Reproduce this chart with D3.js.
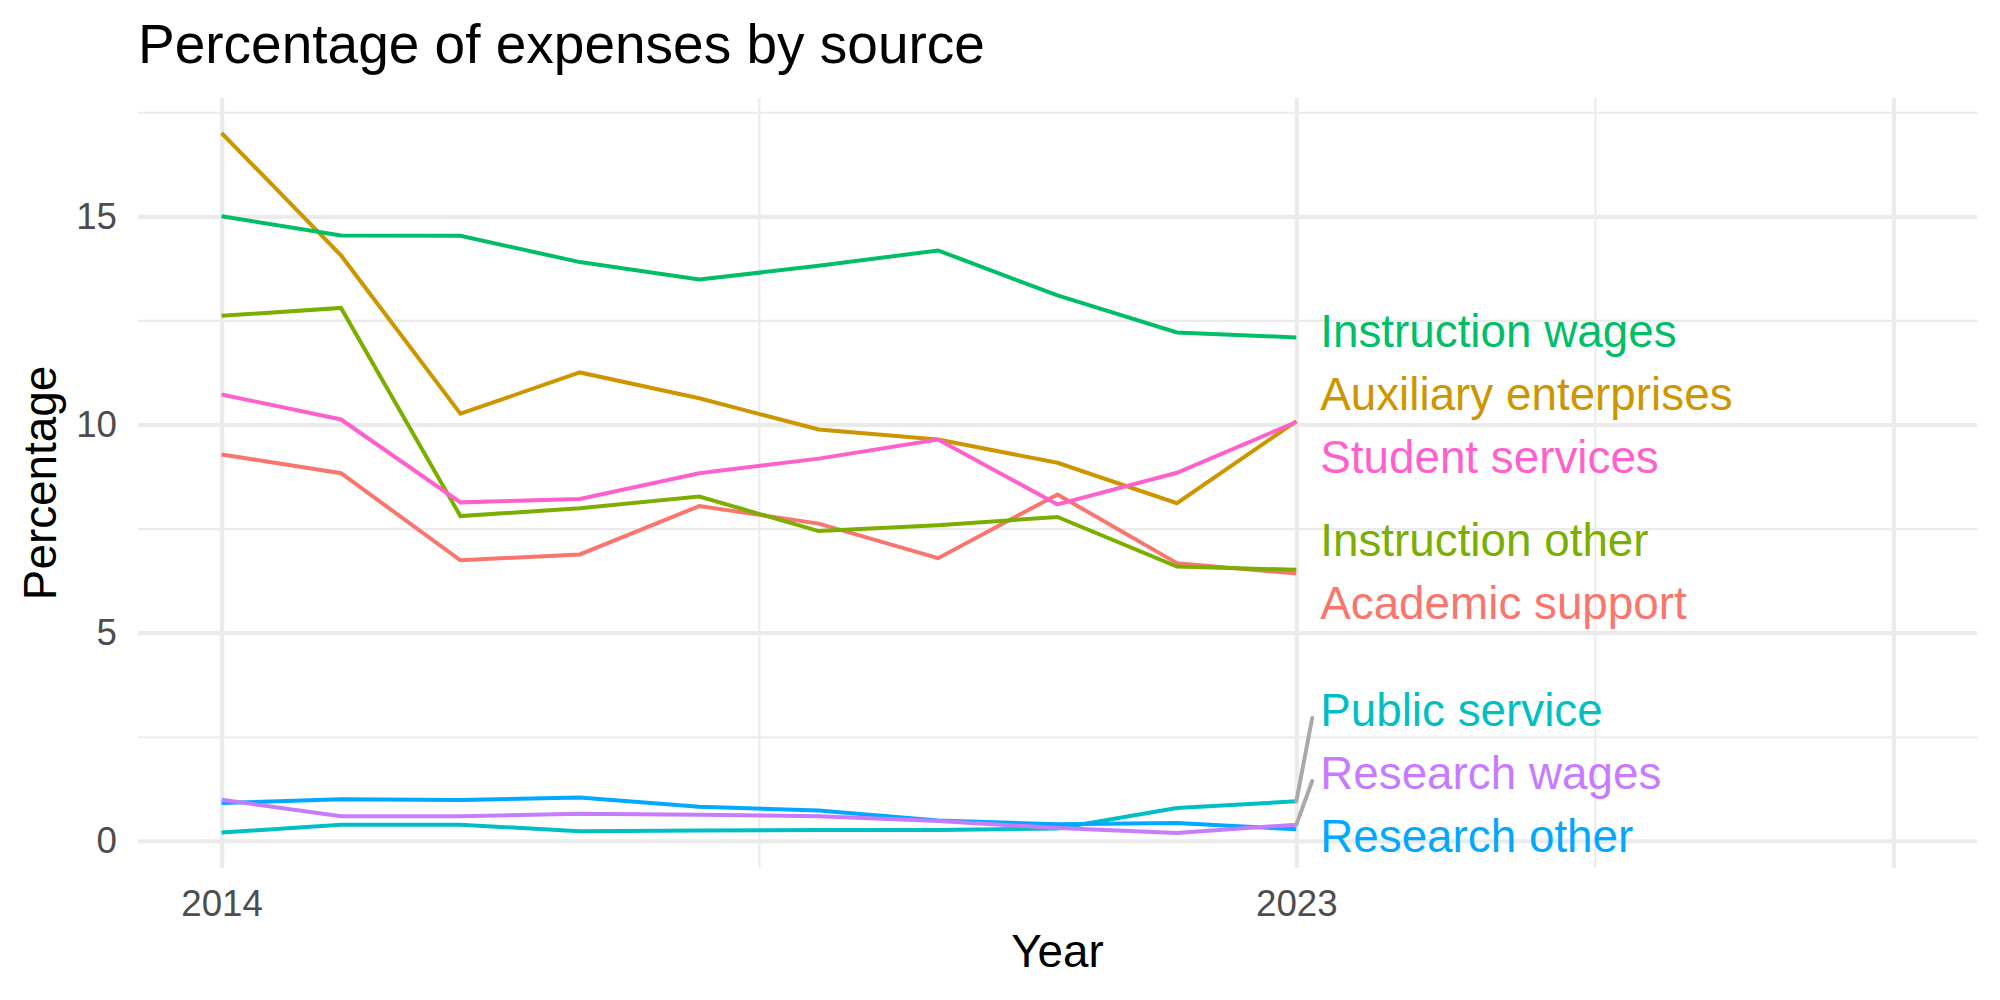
<!DOCTYPE html>
<html>
<head>
<meta charset="utf-8">
<script src="https://cdn.jsdelivr.net/npm/d3@7"></script>
<style>
  body { margin: 0; background: #fff; }
  text { font-family: "Liberation Sans", Arial, sans-serif; }
</style>
</head>
<body>
<div id="chart"></div>
<script>

const years = [2014, 2015, 2016, 2017, 2018, 2019, 2020, 2021, 2022, 2023]

const academicSupport      = [9.28, 8.83, 6.74, 6.88, 8.04, 7.62, 6.79, 8.32, 6.67, 6.42]
const auxiliaryEnterprises = [17.0, 14.06, 10.26, 11.25, 10.63, 9.88, 9.64, 9.08, 8.11, 10.08]
const instructionOther     = [12.61, 12.8, 7.8, 7.99, 8.27, 7.44, 7.58, 7.78, 6.59, 6.51]
const instructionWages     = [15.0, 14.54, 14.53, 13.9, 13.48, 13.81, 14.18, 13.1, 12.21, 12.09]
const publicService        = [0.2, 0.39, 0.39, 0.23, 0.25, 0.26, 0.26, 0.3, 0.79, 0.95]
const researchOther        = [0.91, 1.0, 0.98, 1.04, 0.82, 0.73, 0.49, 0.4, 0.43, 0.28]
const researchWages        = [0.99, 0.59, 0.59, 0.65, 0.63, 0.59, 0.48, 0.31, 0.19, 0.39]
const studentServices      = [10.72, 10.12, 8.13, 8.21, 8.83, 9.18, 9.64, 8.08, 8.84, 10.06]

const sources = ["Academic support", "Auxiliary enterprises", "Instruction other", "Instruction wages",
                 "Public service", "Research other", "Research wages", "Student services"]
const seriesValues = [academicSupport, auxiliaryEnterprises, instructionOther, instructionWages,
                      publicService, researchOther, researchWages, studentServices]

const xLimits = [2014, 2028]
const xBreaks = [2014, 2023, 2028]
const xLabels = ["2014", "2023", ""]
const xMinor = [2018.5, 2025.5]
const yBreaks = [0, 5, 10, 15]
const yMinor = [2.5, 7.5, 12.5, 17.5]

const width = 2000
const height = 1000
const pLeft = 138, pRight = 1977, pTop = 98, pBottom = 868

const series = sources.map((name, i) => ({
    name: name,
    values: years.map((y, j) => ({ year: y, value: seriesValues[i][j] }))
}))

const colors = d3.scaleOrdinal()
    .domain(sources)
    .range(["#F8766D", "#CD9600", "#7CAE00", "#00BE67", "#00BFC4", "#00A9FF", "#C77CFF", "#FF61CC"])

// ggplot style 5% expansion
const xPad = (xLimits[1] - xLimits[0]) * 0.05
const x_scale = d3.scaleLinear()
    .domain([xLimits[0] - xPad, xLimits[1] + xPad])
    .range([pLeft, pRight])

const allValues = seriesValues.flat()
const yExt = d3.extent(allValues)
const yPad = (yExt[1] - yExt[0]) * 0.05
const y_scale = d3.scaleLinear()
    .domain([yExt[0] - yPad, yExt[1] + yPad])
    .range([pBottom, pTop])

const svg = d3.select("#chart")
    .append("svg")
        .attr("width", width)
        .attr("height", height)

// gridlines
function grid(axis, cls, w, tr) {
    const g = svg.append("g").attr("class", cls).attr("transform", tr).call(axis)
    g.select(".domain").remove()
    g.selectAll("line").attr("stroke", "#EBEBEB").attr("stroke-width", w)
    g.selectAll("text").remove()
}
const atBottom = `translate(0, ${pBottom})`
const atLeft = `translate(${pLeft}, 0)`
grid(d3.axisBottom(x_scale).tickValues(xMinor).tickSize(-(pBottom - pTop)).tickFormat(""), "xminor", 2.1, atBottom)
grid(d3.axisLeft(y_scale).tickValues(yMinor).tickSize(-(pRight - pLeft)).tickFormat(""), "yminor", 2.1, atLeft)
grid(d3.axisBottom(x_scale).tickValues(xBreaks).tickSize(-(pBottom - pTop)).tickFormat(""), "xmajor", 4.2, atBottom)
grid(d3.axisLeft(y_scale).tickValues(yBreaks).tickSize(-(pRight - pLeft)).tickFormat(""), "ymajor", 4.2, atLeft)

// tick labels
const x_axis = svg.append("g")
    .attr("class", "x_axis")
    .attr("transform", atBottom)
    .call(d3.axisBottom(x_scale).tickValues(xBreaks).tickSize(0).tickPadding(22)
        .tickFormat((d, i) => xLabels[i]))
x_axis.select(".domain").remove()
x_axis.selectAll("text")
    .attr("font-size", 36.7)
    .attr("fill", "#4D4D4D")
    .style("font-family", "Liberation Sans, Arial, sans-serif")

const y_axis = svg.append("g")
    .attr("class", "y_axis")
    .attr("transform", atLeft)
    .call(d3.axisLeft(y_scale).tickValues(yBreaks).tickSize(0).tickPadding(21))
y_axis.select(".domain").remove()
y_axis.selectAll("text")
    .attr("font-size", 36.7)
    .attr("fill", "#4D4D4D")
    .style("font-family", "Liberation Sans, Arial, sans-serif")

// lines
const line = d3.line()
    .x(d => x_scale(d.year))
    .y(d => y_scale(d.value))

svg.selectAll(".series")
    .data(series)
    .enter()
    .append("path")
        .attr("class", "series")
        .attr("d", d => line(d.values))
        .attr("fill", "none")
        .attr("stroke", d => colors(d.name))
        .attr("stroke-width", 4)

// end labels, pushed apart a bit like ggrepel
const lastYear = years[years.length - 1]
const gap = 63
let labels = series.map(s => {
    const last = s.values[s.values.length - 1]
    return { name: s.name, px: x_scale(last.year), py: y_scale(last.value), y: y_scale(last.value) }
}).sort((a, b) => a.py - b.py)

for (let it = 0; it < 600; it++) {
    for (let i = 1; i < labels.length; i++) {
        const d = labels[i].y - labels[i - 1].y
        if (d < gap) {
            const push = (gap - d) / 2
            labels[i - 1].y -= push
            labels[i].y += push
        }
    }
    labels.forEach(l => { l.y = Math.max(pTop + 32, Math.min(pBottom - 32, l.y)) })
}

const labelX = x_scale(lastYear + 0.2)

labels.forEach(l => {
    const ex = labelX - 8
    const ey = Math.max(l.y - 8, Math.min(l.y + 8, l.py))
    if (Math.hypot(ex - l.px, ey - l.py) > 40) {
        svg.append("line")
            .attr("x1", l.px).attr("y1", l.py)
            .attr("x2", ex).attr("y2", ey)
            .attr("stroke", "#A9A9A9")
            .attr("stroke-width", 4)
            .attr("stroke-linecap", "round")
    }
})

svg.selectAll(".label")
    .data(labels)
    .enter()
    .append("text")
        .attr("class", "label")
        .attr("x", labelX)
        .attr("y", d => d.y)
        .attr("dy", "0.35em")
        .attr("font-size", 45.8)
        .attr("fill", d => colors(d.name))
        .text(d => d.name)

// titles
svg.append("text")
    .text("Percentage of expenses by source")
    .attr("x", pLeft)
    .attr("y", 63)
    .attr("font-size", 55)
    .attr("fill", "black")

svg.append("text")
    .text("Year")
    .attr("x", (pLeft + pRight) / 2)
    .attr("y", 967)
    .attr("text-anchor", "middle")
    .attr("font-size", 45.8)
    .attr("fill", "black")

svg.append("text")
    .text("Percentage")
    .attr("transform", `translate(56, ${(pTop + pBottom) / 2}) rotate(-90)`)
    .attr("text-anchor", "middle")
    .attr("font-size", 45.8)
    .attr("fill", "black")

</script>
</body>
</html>
